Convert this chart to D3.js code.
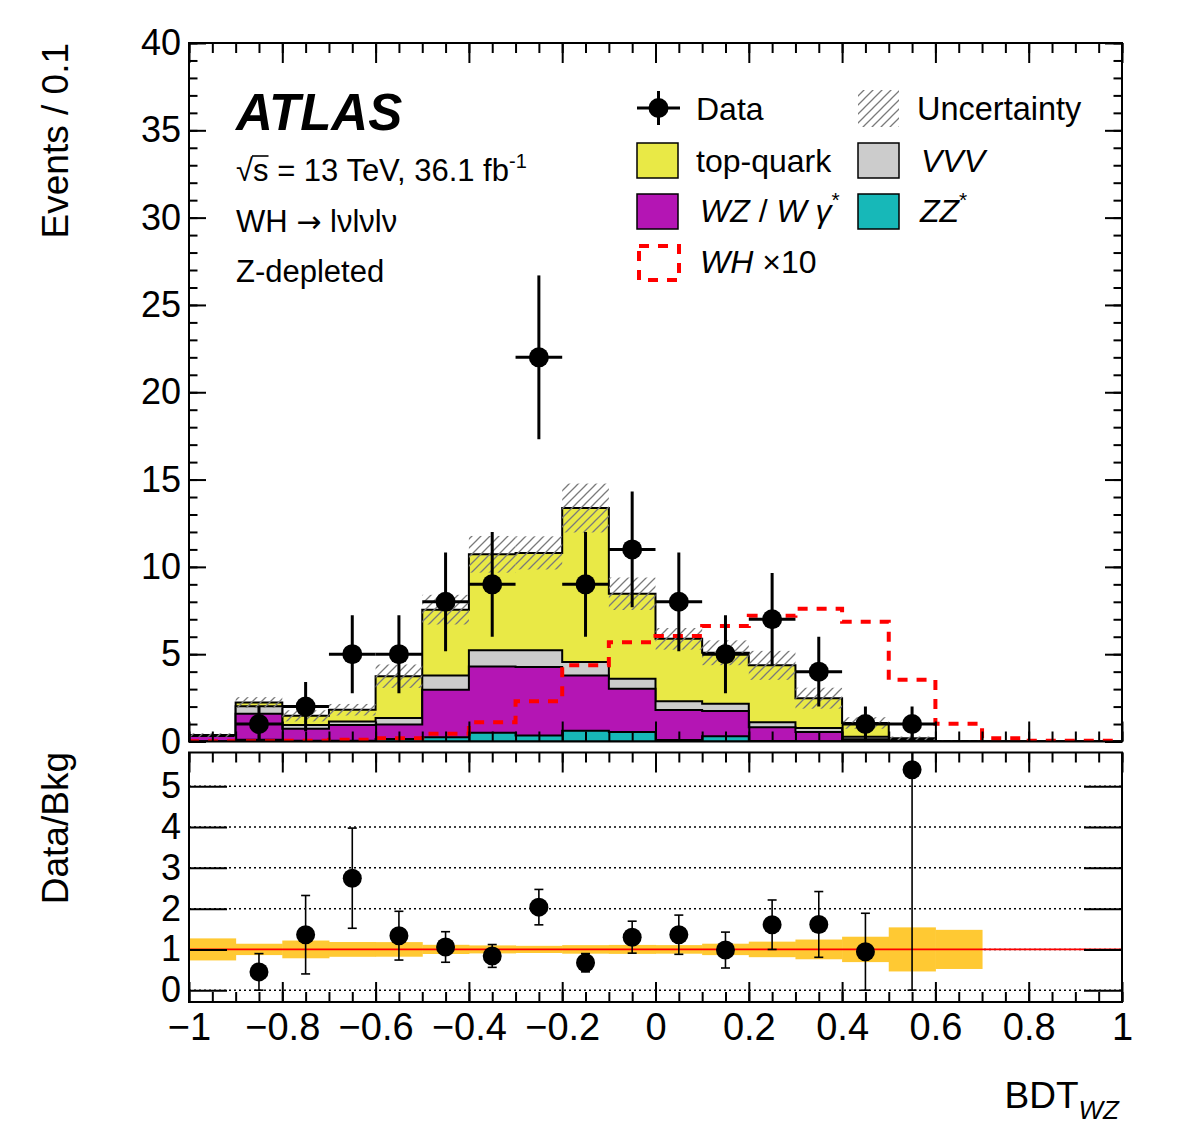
<!DOCTYPE html>
<html><head><meta charset="utf-8">
<script src="https://cdn.jsdelivr.net/npm/d3@7"></script>
<style>
body{margin:0;background:#fff}
svg{display:block}
text{font-family:"Liberation Sans",Arial,Helvetica,sans-serif;fill:#000}
</style>
</head><body>
<svg id="c" width="1182" height="1140"></svg>
<script>
// ---------------- data ----------------
const binLow = [-1.0,-0.9,-0.8,-0.7,-0.6,-0.5,-0.4,-0.3,-0.2,-0.1,0.0,0.1,0.2,0.3,0.4,0.5,0.6,0.7,0.8,0.9];
const binWidth = 0.1;
const dataCounts = [0,1,2,5,5,8,9,22,9,11,8,5,7,4,1,1,0,0,0,0];
const zzStar    = [0.02,0.10,0.05,0.05,0.15,0.25,0.50,0.34,0.61,0.54,0.08,0.30,0.03,0.02,0.01,0.00,0.00,0,0,0];
const wzWgamma  = [0.30,1.49,0.68,0.90,0.82,2.71,3.80,3.92,3.17,2.48,1.73,1.44,0.79,0.52,0.12,0.04,0.01,0,0,0];
const vvv       = [0.02,0.43,0.22,0.20,0.37,0.82,0.92,0.96,0.77,0.57,0.50,0.42,0.28,0.24,0.14,0.08,0.01,0,0,0];
const topQuark  = [0.03,0.21,0.52,0.67,2.40,3.77,5.50,5.58,8.82,4.87,3.57,2.92,3.26,1.70,0.79,0.065,0.005,0,0,0];
const bkgUncert = [0.10,0.31,0.32,0.33,0.67,0.85,1.05,0.95,1.40,0.93,0.62,0.71,0.83,0.60,0.33,0.10,0.012,0,0,0];
const whTimes10 = [0.02,0.02,0.04,0.10,0.19,0.45,1.10,2.31,4.36,5.69,6.04,6.61,7.20,7.60,6.86,3.53,1.01,0.19,0.05,0.05];
const xTickLabels = [-1,-0.8,-0.6,-0.4,-0.2,0,0.2,0.4,0.6,0.8,1];
const yMainTicks = [0,5,10,15,20,25,30,35,40];
const yRatioTicks = [0,1,2,3,4,5];

const colors = {top:"#e9e946", vvv:"#cccccc", wz:"#b415b4", zz:"#17b8b8", band:"#ffc933"};

// ---------------- layout ----------------
const svg = d3.select("#c");
const L=189, R=1122, mTop=43, mBot=741.5, rTop=752.5, rBot=1002;
const x  = d3.scaleLinear().domain([-1,1]).range([L,R]);
const y  = d3.scaleLinear().domain([0,40]).range([mBot,mTop]);
const yr = d3.scaleLinear().domain([-0.29,5.83]).range([rBot,rTop]);

const defs = svg.append("defs");
const pat = defs.append("pattern").attr("id","hatch").attr("patternUnits","userSpaceOnUse")
  .attr("width",9).attr("height",9);
pat.append("path").attr("d","M0,9 L9,0 M-2,2 L2,-2 M7,11 L11,7")
  .attr("stroke","#7a7a7a").attr("stroke-width",1.3);
defs.append("clipPath").attr("id","clipMain").append("rect")
  .attr("x",L).attr("y",mTop).attr("width",R-L).attr("height",mBot-mTop);
defs.append("clipPath").attr("id","clipRatio").append("rect")
  .attr("x",L).attr("y",rTop).attr("width",R-L).attr("height",rBot-rTop);

// rows + stack
const rows = binLow.map((b,i)=>({lo:b, zz:zzStar[i], wz:wzWgamma[i], vvv:vvv[i], top:topQuark[i]}));
const keys = ["zz","wz","vvv","top"];
const stacked = d3.stack().keys(keys)(rows);
const bkg = rows.map(r=>r.zz+r.wz+r.vvv+r.top);

const stepArea = d3.area().curve(d3.curveStepAfter)
  .x(d=>x(d.x)).y0(y(0)).y1(d=>y(d.v));
const gMain = svg.append("g").attr("clip-path","url(#clipMain)");

// draw cumulative histograms from the top layer down (ROOT THStack style)
for (let k=keys.length-1;k>=0;k--){
  const layer = stacked[k];
  const pts = layer.map((s,i)=>({x:binLow[i], v:s[1]}));
  pts.push({x:1, v:layer[layer.length-1][1]});
  gMain.append("path").attr("d",stepArea(pts))
    .attr("fill",colors[keys[k]]).attr("stroke","#000").attr("stroke-width",2)
    .attr("stroke-linejoin","miter");
}
// uncertainty hatch
gMain.selectAll("rect.unc").data(rows.map((r,i)=>({lo:r.lo,b:bkg[i],u:bkgUncert[i]})).filter(d=>d.u>0))
  .join("rect").attr("class","unc")
  .attr("x",d=>x(d.lo)).attr("width",d=>x(d.lo+binWidth)-x(d.lo))
  .attr("y",d=>y(d.b+d.u)).attr("height",d=>y(Math.max(d.b-d.u,0))-y(d.b+d.u))
  .attr("fill","url(#hatch)");
// WH x10 dashed
const whPts = binLow.map((b,i)=>({x:b,v:whTimes10[i]}));
whPts.push({x:1,v:whTimes10[whTimes10.length-1]});
gMain.append("path").attr("d",d3.line().curve(d3.curveStepAfter).x(d=>x(d.x)).y(d=>y(d.v))(whPts))
  .attr("fill","none").attr("stroke","#ff0000").attr("stroke-width",4).attr("stroke-dasharray","10,9");
// data points
const dpts = binLow.map((b,i)=>({lo:b,n:dataCounts[i]})).filter(d=>d.n>0);
const gData = gMain.append("g");
dpts.forEach(d=>{
  const cx = x(d.lo+binWidth/2), e=Math.sqrt(d.n);
  gData.append("line").attr("x1",x(d.lo)).attr("x2",x(d.lo+binWidth)).attr("y1",y(d.n)).attr("y2",y(d.n))
    .attr("stroke","#000").attr("stroke-width",3);
  gData.append("line").attr("x1",cx).attr("x2",cx).attr("y1",y(d.n-e)).attr("y2",y(d.n+e))
    .attr("stroke","#000").attr("stroke-width",3);
  gData.append("circle").attr("cx",cx).attr("cy",y(d.n)).attr("r",10).attr("fill","#000");
});

// ---------------- ratio panel ----------------
const gRat = svg.append("g").attr("clip-path","url(#clipRatio)");
yRatioTicks.forEach(t=>{
  gRat.append("line").attr("x1",L).attr("x2",R).attr("y1",yr(t)).attr("y2",yr(t))
    .attr("stroke","#000").attr("stroke-width",1.5).attr("stroke-dasharray","2,3");
});
gRat.selectAll("rect.band").data(rows.map((r,i)=>({lo:r.lo,rel:bkg[i]>0?bkgUncert[i]/bkg[i]:0})).filter(d=>d.rel>0))
  .join("rect").attr("class","band")
  .attr("x",d=>x(d.lo)).attr("width",d=>x(d.lo+binWidth)-x(d.lo)+0.5)
  .attr("y",d=>yr(1+d.rel)).attr("height",d=>yr(1-d.rel)-yr(1+d.rel))
  .attr("fill",colors.band);
gRat.append("line").attr("x1",L).attr("x2",R).attr("y1",yr(1)).attr("y2",yr(1))
  .attr("stroke","#ff0000").attr("stroke-width",1.6);
binLow.forEach((b,i)=>{
  const n=dataCounts[i], bk=bkg[i];
  if(n<=0||bk<=0) return;
  const r=n/bk, e=Math.sqrt(n)/bk, cx=x(b+binWidth/2);
  const lo=Math.max(r-e,0), hi=r+e;
  gRat.append("line").attr("x1",cx).attr("x2",cx).attr("y1",yr(lo)).attr("y2",yr(hi))
    .attr("stroke","#000").attr("stroke-width",1.6);
  [lo,hi].forEach(v=>gRat.append("line").attr("x1",cx-4.5).attr("x2",cx+4.5).attr("y1",yr(v)).attr("y2",yr(v))
    .attr("stroke","#000").attr("stroke-width",1.6));
  gRat.append("circle").attr("cx",cx).attr("cy",yr(r)).attr("r",9.5).attr("fill","#000");
});

// ---------------- axes ----------------
const fmt = d3.format("");
const xMinor = d3.range(-1,1.0001,0.05);
function styleAxis(g){ g.select(".domain").remove(); g.selectAll("line").attr("stroke","#000").attr("stroke-width",2); g.selectAll("text").attr("fill","#000").attr("font-family",null);}
svg.append("g").attr("transform",`translate(${L},0)`).call(d3.axisLeft(y).tickValues(d3.range(0,41,1)).tickSize(-8.5).tickFormat("")).call(styleAxis);
svg.append("g").attr("transform",`translate(${L},0)`).call(d3.axisLeft(y).tickValues(yMainTicks).tickSize(-17).tickPadding(8).tickFormat(fmt)).call(styleAxis)
  .selectAll("text").attr("font-size",36);
svg.append("g").attr("transform",`translate(${R},0)`).call(d3.axisRight(y).tickValues(d3.range(0,41,1)).tickSize(-8.5).tickFormat("")).call(styleAxis);
svg.append("g").attr("transform",`translate(${R},0)`).call(d3.axisRight(y).tickValues(yMainTicks).tickSize(-17).tickFormat("")).call(styleAxis);
svg.append("g").attr("transform",`translate(0,${mTop})`).call(d3.axisTop(x).tickValues(xMinor).tickSize(-10).tickFormat("")).call(styleAxis);
svg.append("g").attr("transform",`translate(0,${mTop})`).call(d3.axisTop(x).tickValues(xTickLabels).tickSize(-20).tickFormat("")).call(styleAxis);
svg.append("g").attr("transform",`translate(0,${mBot})`).call(d3.axisBottom(x).tickValues(xMinor).tickSize(-10).tickFormat("")).call(styleAxis);
svg.append("g").attr("transform",`translate(0,${mBot})`).call(d3.axisBottom(x).tickValues(xTickLabels).tickSize(-20).tickFormat("")).call(styleAxis);
svg.append("g").attr("transform",`translate(${L},0)`).call(d3.axisLeft(yr).tickValues(yRatioTicks).tickSize(-38).tickPadding(8).tickFormat(fmt)).call(styleAxis)
  .selectAll("text").attr("font-size",36);
svg.append("g").attr("transform",`translate(${R},0)`).call(d3.axisRight(yr).tickValues(yRatioTicks).tickSize(-38).tickFormat("")).call(styleAxis);
svg.append("g").attr("transform",`translate(0,${rTop})`).call(d3.axisTop(x).tickValues(xMinor).tickSize(-10).tickFormat("")).call(styleAxis);
svg.append("g").attr("transform",`translate(0,${rTop})`).call(d3.axisTop(x).tickValues(xTickLabels).tickSize(-20).tickFormat("")).call(styleAxis);
svg.append("g").attr("transform",`translate(0,${rBot})`).call(d3.axisBottom(x).tickValues(xMinor).tickSize(-10).tickFormat("")).call(styleAxis);
svg.append("g").attr("transform",`translate(0,${rBot})`).call(d3.axisBottom(x).tickValues(xTickLabels).tickSize(-20).tickPadding(11).tickFormat(fmt)).call(styleAxis)
  .selectAll("text").attr("font-size",38);

// frames
svg.append("rect").attr("x",L).attr("y",mTop).attr("width",R-L).attr("height",mBot-mTop).attr("fill","none").attr("stroke","#000").attr("stroke-width",2);
svg.append("rect").attr("x",L).attr("y",rTop).attr("width",R-L).attr("height",rBot-rTop).attr("fill","none").attr("stroke","#000").attr("stroke-width",2);

// axis titles
svg.append("text").attr("transform","translate(68,43) rotate(-90)").attr("text-anchor","end").attr("font-size",37).text("Events / 0.1");
svg.append("text").attr("transform","translate(68,752) rotate(-90)").attr("text-anchor","end").attr("font-size",37).text("Data/Bkg");
const xt = svg.append("text").attr("x",1119).attr("y",1108).attr("text-anchor","end").attr("font-size",37);
xt.append("tspan").text("BDT");
xt.append("tspan").attr("font-size",26).attr("font-style","italic").attr("dy",11).text("WZ");

// ATLAS labels
svg.append("text").attr("x",236).attr("y",130).attr("font-size",51).attr("font-weight","bold").attr("font-style","italic").text("ATLAS");
const t1 = svg.append("text").attr("x",236).attr("y",181).attr("font-size",31);
t1.append("tspan").text("√s = 13 TeV, 36.1 fb");
t1.append("tspan").attr("font-size",20).attr("dy",-13).text("-1");
const t1n = t1.node();
const sx0 = t1n.getStartPositionOfChar(1).x;
const sx1 = t1n.getEndPositionOfChar(1).x;
svg.append("line").attr("x1",sx0-1).attr("x2",sx1).attr("y1",156).attr("y2",156).attr("stroke","#000").attr("stroke-width",1.6);
const t2 = svg.append("text").attr("x",236).attr("y",232).attr("font-size",31);
t2.append("tspan").text("WH ");
t2.append("tspan").attr("font-family","DejaVu Sans").attr("font-size",30).text("→");
t2.append("tspan").text(" lνlνlν");
svg.append("text").attr("x",236).attr("y",282).attr("font-size",31).text("Z-depleted");

// ---------------- legend ----------------
const lg = svg.append("g");
lg.append("line").attr("x1",637).attr("x2",680).attr("y1",108).attr("y2",108).attr("stroke","#000").attr("stroke-width",3);
lg.append("line").attr("x1",658.5).attr("x2",658.5).attr("y1",91).attr("y2",125).attr("stroke","#000").attr("stroke-width",3);
lg.append("circle").attr("cx",658.5).attr("cy",108).attr("r",10).attr("fill","#000");
lg.append("text").attr("x",696).attr("y",120).attr("font-size",32).text("Data");
lg.append("rect").attr("x",858).attr("y",90).attr("width",41).attr("height",37).attr("fill","url(#hatch)");
lg.append("text").attr("x",917).attr("y",120).attr("font-size",32.5).text("Uncertainty");
const boxes = [
  {x:637,y:143,c:colors.top},{x:858,y:143,c:colors.vvv},
  {x:637,y:194,c:colors.wz},{x:858,y:194,c:colors.zz}];
boxes.forEach(b=>lg.append("rect").attr("x",b.x).attr("y",b.y).attr("width",41).attr("height",35)
  .attr("fill",b.c).attr("stroke","#000").attr("stroke-width",1.5));
lg.append("text").attr("x",696).attr("y",172).attr("font-size",32).text("top-quark");
lg.append("text").attr("x",921).attr("y",172).attr("font-size",32).attr("font-style","italic").text("VVV");
const twz = lg.append("text").attr("x",700).attr("y",222).attr("font-size",32);
twz.append("tspan").attr("font-style","italic").text("WZ");
twz.append("tspan").text(" / ");
twz.append("tspan").attr("font-style","italic").text("W γ");
twz.append("tspan").attr("font-size",21).attr("dy",-15).text("*");
const tzz = lg.append("text").attr("x",920).attr("y",222).attr("font-size",32);
tzz.append("tspan").attr("font-style","italic").text("ZZ");
tzz.append("tspan").attr("font-size",21).attr("dy",-15).text("*");
lg.append("rect").attr("x",639).attr("y",246).attr("width",40).attr("height",34)
  .attr("fill","none").attr("stroke","#ff0000").attr("stroke-width",4).attr("stroke-dasharray","10,9");
const twh = lg.append("text").attr("x",700).attr("y",273).attr("font-size",32);
twh.append("tspan").attr("font-style","italic").text("WH");
twh.append("tspan").text("  ×10");
</script>
</body></html>
